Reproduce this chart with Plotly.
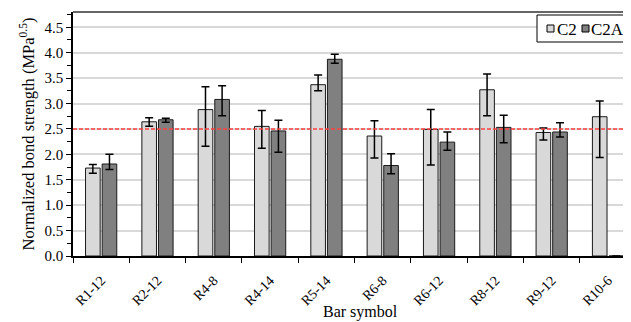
import plotly.graph_objects as go

categories = ["R1-12", "R2-12", "R4-8", "R4-14", "R5-14", "R6-8", "R6-12", "R8-12", "R9-12", "R10-6"]
c2_values = [1.73, 2.64, 2.88, 2.55, 3.37, 2.36, 2.49, 3.27, 2.43, 2.74]
c2_err_plus = [0.07, 0.08, 0.45, 0.31, 0.19, 0.30, 0.39, 0.31, 0.09, 0.31]
c2_err_minus = [0.10, 0.09, 0.72, 0.43, 0.12, 0.43, 0.70, 0.51, 0.15, 0.80]
c2a_values = [1.81, 2.68, 3.08, 2.46, 3.87, 1.78, 2.24, 2.53, 2.44, 0]
c2a_err_plus = [0.19, 0.03, 0.27, 0.21, 0.10, 0.23, 0.20, 0.24, 0.18, 0]
c2a_err_minus = [0.11, 0.05, 0.32, 0.42, 0.08, 0.16, 0.16, 0.30, 0.10, 0]
series_names = ["C2", "C2A"]
series_colors = ["#d9d9d9", "#808080"]
x_title = "Bar symbol"
y_title = "Normalized bond strength (MPa<sup>0.5</sup>)"
reference_value = 2.5

font = "Times New Roman"

W, H = 631, 322
ML, MT, MB = 65, 4, 74
PW = W - ML
PH = H - MT - MB


def px(sx):
    # screen x -> paper x (page has an 8px body offset)
    return (sx - 8 - ML) / PW


def py(sy):
    return (H - MB - (sy - 8)) / PH


fig = go.Figure()
for name, vals, ep, em, col in [
    (series_names[0], c2_values, c2_err_plus, c2_err_minus, series_colors[0]),
    (series_names[1], c2a_values, c2a_err_plus, c2a_err_minus, series_colors[1]),
]:
    fig.add_trace(go.Bar(
        name=name, x=categories, y=vals,
        marker=dict(color=col, line=dict(color="#1a1a1a", width=1)),
        error_y=dict(type="data", symmetric=False, array=ep, arrayminus=em,
                     color="black", thickness=1.5, width=4),
        showlegend=False,
    ))

fig.add_shape(type="line", xref="paper", x0=0, x1=1, yref="y", y0=reference_value, y1=reference_value,
              line=dict(color="#ff4040", width=1.5, dash="4px,2px"))
fig.add_shape(type="line", xref="paper", x0=0, x1=1, yref="paper", y0=1, y1=1,
              line=dict(color="#333333", width=1.5))

# legend drawn manually
fig.add_shape(type="rect", xref="paper", yref="paper", x0=px(537), x1=px(645), y0=py(42), y1=py(15),
              line=dict(color="black", width=1), fillcolor="white", layer="above")
for sq_x, txt_x, name, col in [(547, 555, series_names[0], series_colors[0]),
                               (582, 589, series_names[1], series_colors[1])]:
    fig.add_shape(type="rect", xref="paper", yref="paper", x0=px(sq_x), x1=px(sq_x + 7),
                  y0=py(32), y1=py(25), line=dict(color="black", width=1), fillcolor=col, layer="above")
    fig.add_annotation(xref="paper", yref="paper", x=px(txt_x), y=py(29), text=name,
                       showarrow=False, xanchor="left", yanchor="middle",
                       font=dict(size=17, family=font, color="black"))

# x-axis title
fig.add_annotation(xref="paper", yref="paper", x=px(360), y=py(312), text=x_title,
                   showarrow=False, xanchor="center", yanchor="middle",
                   font=dict(size=16, family=font, color="black"))

fig.update_layout(
    width=W, height=H,
    margin=dict(l=ML, r=0, t=MT, b=MB, autoexpand=False),
    paper_bgcolor="white", plot_bgcolor="white",
    font=dict(family=font, size=13, color="black"),
    barmode="group", bargap=0.41, bargroupgap=0.12,
    showlegend=False,
)
fig.update_xaxes(
    range=[-0.5, 9.55], showline=True, linecolor="black", linewidth=1.5,
    ticks="outside", tickson="boundaries", ticklen=5, tickcolor="black",
    tickangle=-45, tickfont=dict(size=14, family=font), automargin=False,
    ticklabelstandoff=9,
)
fig.update_yaxes(
    range=[0, 4.8], dtick=0.5, tick0=0, tickformat=".1f",
    showline=True, linecolor="black", linewidth=1.5,
    ticks="outside", ticklen=5, tickcolor="black",
    minor=dict(dtick=0.25, ticks="outside", ticklen=4, tickcolor="black", showgrid=False),
    showgrid=True, gridcolor="#d9d9d9", gridwidth=1.5, zeroline=False,
    tickfont=dict(size=15, family=font), automargin=False,
    title=dict(text=y_title, font=dict(size=16.5, family=font), standoff=6),
)

fig.write_html("out.html")
